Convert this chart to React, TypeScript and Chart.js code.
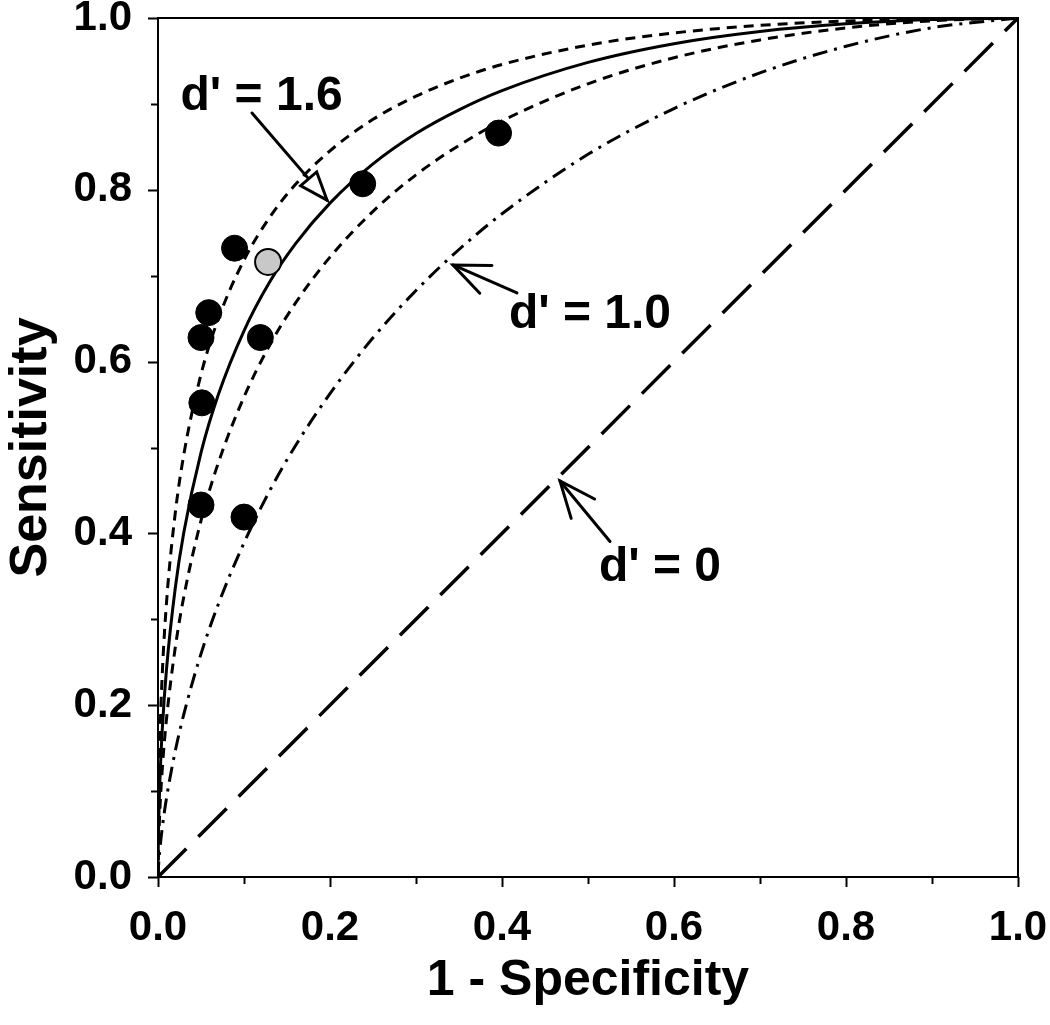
import { useEffect, useRef } from 'react';
import { Chart, registerables } from 'chart.js';

Chart.register(...registerables);

// ---- data ----
const curveX = [0, 0.0001, 0.0005, 0.002, 0.005, 0.01, 0.02, 0.03, 0.05, 0.07, 0.1, 0.13, 0.16, 0.2, 0.25, 0.3, 0.35, 0.4, 0.5, 0.6, 0.7, 0.8, 0.9, 1];
const upperDashedY = [0, 0.0315, 0.0764, 0.1543, 0.2372, 0.3208, 0.4231, 0.4916, 0.5851, 0.6494, 0.7182, 0.7682, 0.8064, 0.8454, 0.882, 0.909, 0.9297, 0.9459, 0.9684, 0.9826, 0.9914, 0.9965, 0.9992, 1];
const solidY = [0, 0.0183, 0.0485, 0.1063, 0.1724, 0.2432, 0.3359, 0.401, 0.494, 0.5611, 0.6359, 0.6929, 0.7373, 0.7845, 0.8301, 0.8655, 0.8931, 0.9155, 0.9483, 0.9701, 0.9843, 0.9932, 0.9982, 1];
const lowerDashedY = [0, 0.011, 0.0314, 0.0741, 0.1262, 0.1851, 0.2665, 0.3262, 0.4149, 0.4817, 0.5588, 0.6194, 0.6684, 0.7216, 0.7749, 0.8174, 0.8517, 0.8802, 0.9234, 0.9537, 0.9745, 0.9884, 0.9967, 1];
const dashDotY = [0, 0.0033, 0.011, 0.0302, 0.0577, 0.0926, 0.1463, 0.1894, 0.2598, 0.3172, 0.389, 0.4499, 0.5024, 0.5627, 0.6277, 0.6828, 0.7305, 0.7721, 0.8413, 0.8946, 0.9361, 0.9671, 0.9887, 1];
const chanceX = [0, 1];
const chanceY = [0, 1];

const blackPointX = [0.089, 0.059, 0.05, 0.119, 0.051, 0.05, 0.1, 0.238, 0.396];
const blackPointY = [0.732, 0.657, 0.628, 0.628, 0.552, 0.433, 0.419, 0.807, 0.866];
const greyPointX = [0.128];
const greyPointY = [0.716];

const tickValues = [0, 0.1, 0.2, 0.3, 0.4, 0.5, 0.6, 0.7, 0.8, 0.9, 1.0];
const tickLabels = ['0.0', '', '0.2', '', '0.4', '', '0.6', '', '0.8', '', '1.0'];

const xTitle = '1 - Specificity';
const yTitle = 'Sensitivity';

// annotation labels (data coordinates)
const annotations = [
  { text: "d' = 1.6", at: [0.1205, 0.908], tail: [0.1093, 0.8894], tip: [0.1965, 0.788], head: 'hollow' },
  { text: "d' = 1.0", at: [0.5023, 0.654], tail: [0.4174, 0.6799], tip: [0.343, 0.7125], head: 'open' },
  { text: "d' = 0", at: [0.5837, 0.36], tail: [0.5256, 0.3906], tip: [0.4674, 0.461], head: 'open' },
];

const FONT = "'Liberation Sans', Arial, Helvetica, sans-serif";

export default function App() {
  const ref = useRef<HTMLCanvasElement>(null);

  useEffect(() => {
    const canvas = ref.current;
    if (!canvas) return;

    const curve = (xs: number[], ys: number[], dash: number[], width: number) => ({
      type: 'scatter' as const,
      data: xs.map((x, i) => ({ x, y: ys[i] })),
      showLine: true,
      borderColor: '#000',
      borderWidth: width,
      borderDash: dash,
      pointRadius: 0,
      pointHoverRadius: 0,
      cubicInterpolationMode: 'monotone' as const,
      order: 2,
    });

    const overlay = {
      id: 'rocOverlay',
      afterDraw(chart: any) {
        const { ctx, chartArea, scales } = chart;
        const xs = scales.x;
        const ys = scales.y;
        ctx.save();
        ctx.strokeStyle = '#000';
        ctx.lineWidth = 2;
        ctx.strokeRect(chartArea.left, chartArea.top, chartArea.right - chartArea.left, chartArea.bottom - chartArea.top);
        // ticks
        xs.ticks.forEach((t: any, i: number) => {
          const px = Math.round(xs.getPixelForValue(t.value)) + 0.5;
          const len = tickLabels[i] ? 10 : 7;
          ctx.beginPath();
          ctx.moveTo(px, chartArea.bottom);
          ctx.lineTo(px, chartArea.bottom + len);
          ctx.stroke();
        });
        ys.ticks.forEach((t: any, i: number) => {
          const py = Math.round(ys.getPixelForValue(t.value)) + 0.5;
          const len = tickLabels[i] ? 10 : 7;
          ctx.beginPath();
          ctx.moveTo(chartArea.left, py);
          ctx.lineTo(chartArea.left - len, py);
          ctx.stroke();
        });
        // annotations
        ctx.fillStyle = '#000';
        ctx.font = `bold 48px ${FONT}`;
        ctx.textAlign = 'center';
        ctx.textBaseline = 'middle';
        ctx.lineWidth = 3;
        ctx.lineCap = 'round';
        annotations.forEach((a) => {
          ctx.fillText(a.text, xs.getPixelForValue(a.at[0]), ys.getPixelForValue(a.at[1]));
          const tx = xs.getPixelForValue(a.tail[0]);
          const ty = ys.getPixelForValue(a.tail[1]);
          const hx = xs.getPixelForValue(a.tip[0]);
          const hy = ys.getPixelForValue(a.tip[1]);
          const ang = Math.atan2(ty - hy, tx - hx);
          ctx.beginPath();
          ctx.moveTo(tx, ty);
          ctx.lineTo(hx, hy);
          ctx.stroke();
          if (a.head === 'open') {
            const L = 39;
            const s = 0.4;
            ctx.beginPath();
            ctx.moveTo(hx + L * Math.cos(ang - s), hy + L * Math.sin(ang - s));
            ctx.lineTo(hx, hy);
            ctx.lineTo(hx + L * Math.cos(ang + s), hy + L * Math.sin(ang + s));
            ctx.stroke();
          } else {
            const L = 30;
            const s = 0.36;
            ctx.beginPath();
            ctx.moveTo(hx, hy);
            ctx.lineTo(hx + L * Math.cos(ang - s), hy + L * Math.sin(ang - s));
            ctx.lineTo(hx + L * Math.cos(ang + s), hy + L * Math.sin(ang + s));
            ctx.closePath();
            ctx.fillStyle = '#fff';
            ctx.fill();
            ctx.lineJoin = 'miter';
            ctx.stroke();
            ctx.fillStyle = '#000';
          }
        });
        ctx.restore();
      },
    };

    const axisCommon = (title: string, titleSize: number, titlePadding: any) => ({
      type: 'linear' as const,
      min: 0,
      max: 1,
      afterBuildTicks: (s: any) => {
        s.ticks = tickValues.map((v) => ({ value: v }));
      },
      ticks: {
        callback: (_v: any, i: number) => tickLabels[i],
        font: { family: FONT, size: 42, weight: 'bold' as const },
        color: '#000',
        padding: 18,
        maxRotation: 0,
        autoSkip: false,
      },
      grid: { display: false },
      border: { display: false },
      title: {
        display: true,
        text: title,
        color: '#000',
        font: { family: FONT, size: titleSize, weight: 'bold' as const },
        padding: titlePadding,
      },
    });

    const chart = new Chart(canvas, {
      type: 'scatter',
      data: {
        datasets: [
          {
            type: 'scatter',
            data: greyPointX.map((x, i) => ({ x, y: greyPointY[i] })),
            pointRadius: 13,
            pointBackgroundColor: '#c8c8c8',
            pointBorderColor: '#000',
            pointBorderWidth: 2,
            order: 0,
          },
          {
            type: 'scatter',
            data: blackPointX.map((x, i) => ({ x, y: blackPointY[i] })),
            pointRadius: 13,
            pointBackgroundColor: '#000',
            pointBorderColor: '#000',
            pointBorderWidth: 1,
            order: 1,
          },
          curve(curveX, upperDashedY, [10, 7], 3),
          curve(curveX, solidY, [], 3),
          curve(curveX, lowerDashedY, [10, 7], 3),
          curve(curveX, dashDotY, [15, 7, 3, 7], 3),
          curve(chanceX, chanceY, [40, 17], 3.5),
        ] as any,
      },
      options: {
        animation: false,
        responsive: false,
        maintainAspectRatio: false,
        devicePixelRatio: 1,
        layout: { padding: 0 },
        plugins: { legend: { display: false }, tooltip: { enabled: false } },
        events: [],
        scales: {
          x: {
            ...axisCommon(xTitle, 50, { top: 0, bottom: 14 }),
            position: 'bottom',
            afterFit: (s: any) => {
              s.height = 148;
              s.paddingLeft = 0;
              s.paddingRight = 32;
            },
          },
          y: {
            ...axisCommon(yTitle, 52, { top: 0, bottom: 0 }),
            position: 'left',
            afterFit: (s: any) => {
              s.width = 158;
              s.paddingTop = 18;
              s.paddingBottom = 0;
            },
          },
        },
      } as any,
      plugins: [overlay],
    });

    return () => chart.destroy();
  }, []);

  return (
    <div style={{ position: 'fixed', left: 0, top: 0, width: 1050, height: 1025, background: '#fff' }}>
      <canvas ref={ref} width={1050} height={1025} style={{ display: 'block' }} />
    </div>
  );
}
